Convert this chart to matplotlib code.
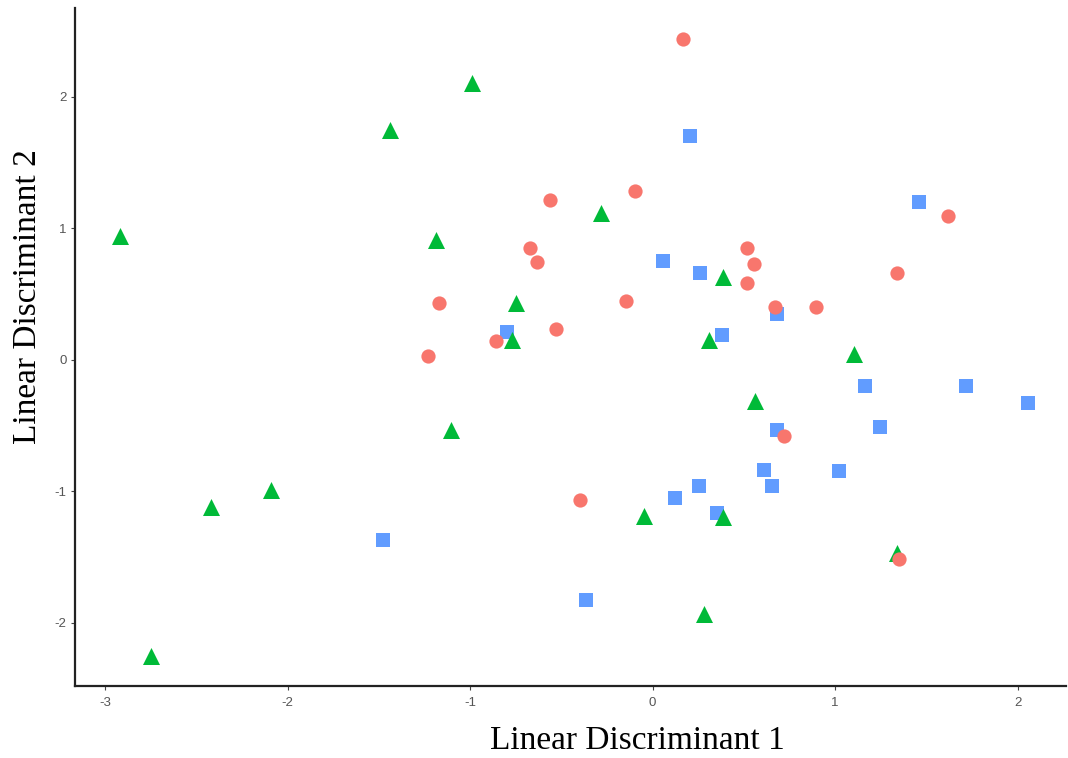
import matplotlib
matplotlib.use("Agg")
import matplotlib.pyplot as plt

plt.rcParams["axes.unicode_minus"] = False

# group 1 (red circles)
red_x = [0.164, -0.096, -0.565, -0.672, -0.631, -1.170, -1.231, -0.861, -0.527, -0.148,
         0.517, 0.556, 0.517, 0.669, 0.896, 1.336, 1.619, 0.720, -0.396, 1.348]
red_y = [2.437, 1.281, 1.213, 0.848, 0.745, 0.433, 0.027, 0.144, 0.230, 0.443,
         0.850, 0.724, 0.582, 0.402, 0.402, 0.660, 1.091, -0.578, -1.065, -1.517]

# group 2 (green triangles)
green_x = [-0.991, -1.438, -2.919, -1.189, -0.284, -0.746, -0.768, 0.387, 0.306, 1.105,
           0.560, -1.104, -2.089, -2.418, -2.750, -0.049, 0.387, 0.279, 1.338]
green_y = [2.103, 1.745, 0.939, 0.914, 1.112, 0.432, 0.148, 0.630, 0.148, 0.042,
           -0.316, -0.536, -0.992, -1.122, -2.255, -1.190, -1.198, -1.935, -1.471]

# group 3 (blue squares)
blue_x = [0.205, 1.457, 0.057, 0.261, -0.797, 0.379, 0.682, 1.162, 1.717, 2.059,
          1.246, 0.682, 0.609, 1.022, 0.654, 0.253, 0.120, 0.355, -1.476, -0.363]
blue_y = [1.705, 1.198, 0.754, 0.660, 0.211, 0.186, 0.351, -0.198, -0.198, -0.327,
          -0.510, -0.536, -0.837, -0.848, -0.958, -0.962, -1.053, -1.167, -1.373, -1.829]

x_ticks = [-3, -2, -1, 0, 1, 2]
y_ticks = [-2, -1, 0, 1, 2]

fig = plt.figure(figsize=(10.68, 7.58), dpi=100)
ax = fig.add_axes([0.0702, 0.095, 0.928, 0.894])

ax.scatter(blue_x, blue_y, marker="s", s=90, color="#619CFF", linewidths=0, zorder=3)
ax.scatter(green_x, green_y, marker="^", s=150, color="#00BA38", linewidths=0, zorder=4)
ax.scatter(red_x, red_y, marker="o", s=105, color="#F8766D", linewidths=0, zorder=5)

ax.set_xlim(-3.165, 2.265)
ax.set_ylim(-2.483, 2.673)
ax.set_xticks(x_ticks)
ax.set_yticks(y_ticks)

for side in ["top", "right"]:
    ax.spines[side].set_visible(False)
for side in ["left", "bottom"]:
    ax.spines[side].set_linewidth(1.6)
    ax.spines[side].set_color("#222222")

ax.tick_params(axis="both", length=3, width=0.8, color="#444444",
               labelsize=9.5, labelcolor="#555555")
ax.tick_params(axis="x", pad=5)
ax.tick_params(axis="y", pad=3)
for lab in ax.get_xticklabels() + ax.get_yticklabels():
    lab.set_family("Liberation Sans")

# labels sit off-centre in the original, so place them by hand
ax.set_xlabel("Linear Discriminant 1", family="Liberation Serif", fontsize=24)
ax.set_ylabel("Linear Discriminant 2", family="Liberation Serif", fontsize=24)
ax.xaxis.set_label_coords(0.567, -0.058)
ax.yaxis.set_label_coords(-0.032, 0.574)

fig.savefig("out.png", dpi=100)
